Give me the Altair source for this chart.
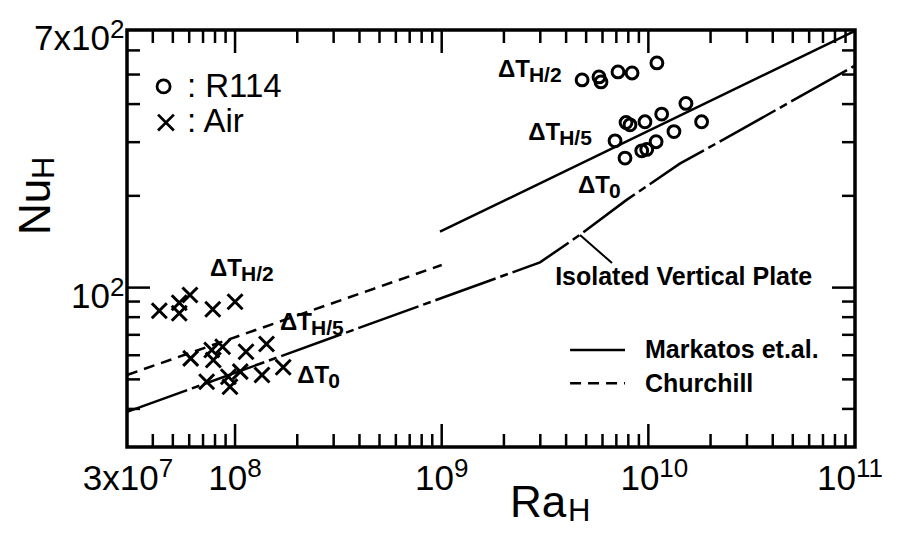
import altair as alt
import pandas as pd

# ---------------- data ----------------
air_ra = [4.30e7, 5.37e7, 5.37e7, 6.05e7, 7.80e7, 1.00e8,
          6.10e7, 7.71e7, 7.85e7, 8.71e7, 1.13e8, 1.42e8,
          7.29e7, 9.28e7, 9.45e7, 1.06e8, 1.35e8, 1.71e8]
air_nu = [84.0, 89.2, 82.4, 94.6, 84.9, 89.9,
          58.6, 62.4, 57.9, 64.0, 61.6, 65.3,
          49.1, 51.0, 47.3, 53.0, 51.7, 54.8]

r114_ra = [4.78e9, 5.77e9, 5.90e9, 7.13e9, 8.34e9, 1.10e10,
           6.90e9, 7.80e9, 8.15e9, 9.63e9, 1.16e10, 1.52e10,
           7.71e9, 9.29e9, 9.82e9, 1.09e10, 1.33e10, 1.81e10]
r114_nu = [480, 491, 473, 510, 506, 546,
           303, 348, 342, 350, 371, 402,
           266, 281, 284, 301, 325, 350]

markatos_ra = [9.81e8, 1e11]
markatos_nu = [152.5, 695]
churchill_ra = [3e7, 1e9]
churchill_nu = [51.7, 118.6]
plate_ra = [3e7, 2.99e9, 4.67e9, 7.85e9, 1.42e10, 2.77e10, 1e11]
plate_nu = [39.1, 121, 149, 194, 255, 328, 535]

# annotations (anchor in data coordinates)
dt_ra = [7.57e7, 1.65e8, 2.0e8, 1.87e9, 2.62e9, 4.57e9]
dt_nu = [109.2, 72.6, 48.6, 491, 305, 204]
dt_sub = ["H/2", "H/5", "0", "H/2", "H/5", "0"]

plate_label = "Isolated Vertical Plate"
plate_label_ra, plate_label_nu = 3.54e9, 102
leader_ra = [4.67e9, 6.67e9]
leader_nu = [148.8, 120.4]

legend_sym_ra = [4.51e7, 4.63e7]
legend_sym_nu = [457, 348]
legend_txt = [": R114", ": Air"]
legend_txt_ra = 5.85e7
legend_txt_nu = [422, 324]

key_line_ra = [4.18e9, 7.71e9]
key_markatos_nu = 62.4
key_churchill_nu = 48.6
key_txt = ["Markatos et.al.", "Churchill"]
key_txt_ra = 9.63e9
key_txt_nu = [58.7, 45.5]

x_major = [1e8, 1e9, 1e10]
x_minor = [k * 10 ** e for e in range(7, 11) for k in range(2, 10)
           if 3e7 < k * 10 ** e < 1e11]
y_major = [100]
y_minor = [40, 50, 60, 70, 80, 90, 200, 300, 400, 500, 600]

x_labels = [(3e7, "3x10", "7"), (1e8, "10", "8"), (1e9, "10", "9"),
            (1e10, "10", "10"), (1e11, "10", "11")]
y_labels = [(100, "10", "2"), (700, "7x10", "2")]

# ---------------- styling ----------------
W, H = 728, 417
FONT = "Liberation Sans"
xs = alt.Scale(type="log", domain=[3e7, 1e11], nice=False)
ys = alt.Scale(type="log", domain=[30, 700], nice=False)
X = lambda f: alt.X(f, type="quantitative", scale=xs, axis=None)
Y = lambda f: alt.Y(f, type="quantitative", scale=ys, axis=None)

layers = []

# ticks (inward on all four sides)
def ticks(vals, length, horizontal_axis):
    dfx = pd.DataFrame({"v": vals})
    base = alt.Chart(dfx).mark_rule(color="black", strokeWidth=2.5)
    if horizontal_axis:
        return [base.encode(x=X("v"), y=alt.value(H), y2=alt.value(H - length)),
                base.encode(x=X("v"), y=alt.value(0), y2=alt.value(length))]
    return [base.encode(y=Y("v"), x=alt.value(0), x2=alt.value(length)),
            base.encode(y=Y("v"), x=alt.value(W), x2=alt.value(W - length))]

layers += ticks(x_minor, 13, True) + ticks(x_major, 23, True)
layers += ticks(y_minor, 13, False) + ticks(y_major, 23, False)

# curves
def line(ra, nu, dash=None, width=2.5):
    kw = dict(color="black", strokeWidth=width)
    if dash:
        kw["strokeDash"] = dash
    return alt.Chart(pd.DataFrame({"ra": ra, "nu": nu})).mark_line(**kw).encode(
        x=X("ra"), y=Y("nu"))

layers.append(line(markatos_ra, markatos_nu))
layers.append(line(churchill_ra, churchill_nu, dash=[11, 7]))
layers.append(line(plate_ra, plate_nu, dash=[64, 5, 8, 5]))
layers.append(line(leader_ra, leader_nu, width=2.0))
layers.append(line(key_line_ra, [key_markatos_nu] * 2))
layers.append(line(key_line_ra, [key_churchill_nu] * 2, dash=[11, 7]))

# markers
CROSS = "M-1,-1L1,1M-1,1L1,-1"
layers.append(alt.Chart(pd.DataFrame({"ra": r114_ra, "nu": r114_nu})).mark_point(
    shape="circle", filled=False, size=140, strokeWidth=3, color="black", opacity=1
).encode(x=X("ra"), y=Y("nu")))
layers.append(alt.Chart(pd.DataFrame({"ra": air_ra, "nu": air_nu})).mark_point(
    shape=CROSS, filled=False, size=225, strokeWidth=3, color="black", opacity=1
).encode(x=X("ra"), y=Y("nu")))

# legend symbols (top-left)
layers.append(alt.Chart(pd.DataFrame({"ra": legend_sym_ra[:1], "nu": legend_sym_nu[:1]})).mark_point(
    shape="circle", filled=False, size=170, strokeWidth=2.8, color="black", opacity=1
).encode(x=X("ra"), y=Y("nu")))
layers.append(alt.Chart(pd.DataFrame({"ra": legend_sym_ra[1:], "nu": legend_sym_nu[1:]})).mark_point(
    shape=CROSS, filled=False, size=250, strokeWidth=2.8, color="black", opacity=1
).encode(x=X("ra"), y=Y("nu")))
layers.append(alt.Chart(pd.DataFrame({"ra": [legend_txt_ra] * 2, "nu": legend_txt_nu, "t": legend_txt})).mark_text(
    align="left", baseline="alphabetic", font=FONT, fontSize=33, color="black"
).encode(x=X("ra"), y=Y("nu"), text="t:N"))

# key text (bottom-right)
layers.append(alt.Chart(pd.DataFrame({"ra": [key_txt_ra] * 2, "nu": key_txt_nu, "t": key_txt})).mark_text(
    align="left", baseline="alphabetic", font=FONT, fontSize=25, fontWeight="bold", color="black"
).encode(x=X("ra"), y=Y("nu"), text="t:N"))

# Isolated Vertical Plate label
layers.append(alt.Chart(pd.DataFrame({"ra": [plate_label_ra], "nu": [plate_label_nu], "t": [plate_label]})).mark_text(
    align="left", baseline="alphabetic", font=FONT, fontSize=25, fontWeight="bold", color="black"
).encode(x=X("ra"), y=Y("nu"), text="t:N"))

# Delta T labels
dt_df = pd.DataFrame({"ra": dt_ra, "nu": dt_nu, "sub": dt_sub, "main": ["ΔT"] * len(dt_ra)})
layers.append(alt.Chart(dt_df).mark_text(
    align="left", baseline="alphabetic", font=FONT, fontSize=24, fontWeight="bold", color="black"
).encode(x=X("ra"), y=Y("nu"), text="main:N"))
layers.append(alt.Chart(dt_df).mark_text(
    align="left", baseline="alphabetic", font=FONT, fontSize=21, fontWeight="bold", color="black",
    dx=31, dy=5
).encode(x=X("ra"), y=Y("nu"), text="sub:N"))

# x tick labels with superscripts
BASE_FS, SUP_FS = 35, 26
x_shift = {1e10: 6, 1e11: -4}
for v, b, s in x_labels:
    wb = len(b) * 0.556 * BASE_FS
    wsup = len(s) * 0.556 * SUP_FS
    j = (wb + wsup) / 2 - wsup + x_shift.get(v, 0)
    d = pd.DataFrame({"v": [v], "b": [b], "s": [s]})
    layers.append(alt.Chart(d).mark_text(
        align="right", baseline="alphabetic", font=FONT, fontSize=BASE_FS, color="black", dx=j
    ).encode(x=X("v"), y=alt.value(H + 43), text="b:N"))
    layers.append(alt.Chart(d).mark_text(
        align="left", baseline="alphabetic", font=FONT, fontSize=SUP_FS, color="black", dx=j
    ).encode(x=X("v"), y=alt.value(H + 30), text="s:N"))

# y tick labels with superscripts
yl = pd.DataFrame({"v": [t[0] for t in y_labels], "b": [t[1] for t in y_labels],
                   "s": [t[2] for t in y_labels]})
layers.append(alt.Chart(yl).mark_text(
    align="right", baseline="alphabetic", font=FONT, fontSize=BASE_FS, color="black", dy=20
).encode(y=Y("v"), x=alt.value(-17), text="b:N"))
layers.append(alt.Chart(yl).mark_text(
    align="left", baseline="alphabetic", font=FONT, fontSize=SUP_FS, color="black", dy=8
).encode(y=Y("v"), x=alt.value(-17), text="s:N"))

# axis titles with subscripts
def txt(t, x, y, fs, angle=0):
    kw = dict(align="left", baseline="alphabetic", font=FONT, fontSize=fs, color="black")
    if angle:
        kw["angle"] = angle
    return alt.Chart(pd.DataFrame({"t": [t]})).mark_text(**kw).encode(
        x=alt.value(x), y=alt.value(y), text="t:N")

layers.append(txt("Ra", 383, 487, 44))
layers.append(txt("H", 441, 491, 31))
layers.append(txt("Nu", -77, 205, 44, angle=270))
layers.append(txt("H", -73, 149, 31, angle=270))

chart = alt.layer(*layers).properties(
    width=W, height=H,
    autosize=alt.AutoSizeParams(type="none"),
    padding={"left": 119, "top": 22, "right": 35, "bottom": 81},
    background="white",
).configure_view(stroke="black", strokeWidth=3.5)

chart.save("out.html", embed_options={"renderer": "svg", "actions": False})
